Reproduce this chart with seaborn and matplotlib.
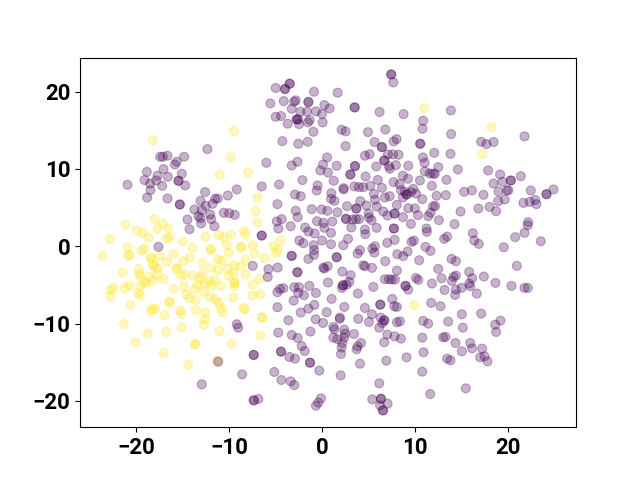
import numpy as np
import pandas as pd
import seaborn as sns
import matplotlib
matplotlib.use("Agg")
import matplotlib.pyplot as plt

# t-SNE embedding, two classes
yellow_x = [-9.5,-18.21,-9.82,-7.96,-11.0,-18.03,-21.15,-17.13,-17.7,-16.52,-19.96,-19.32,-18.67,-22.83,-16.41,-16.7,-14.98,-12.54,-11.11,-10.61,-9.78,-8.39,-8.21,
    -20.93,-19.1,-19.43,-23.62,-20.79,-20.79,-18.39,-18.39,-17.49,-15.98,-16.7,-13.94,-11.97,-11.97,-10.25,-8.71,-8.71,-10.03,-14.23,-14.94,-18.13,-18.13,-17.7,-11.22,-10.79,-12.87,-8.21,-19.71,-15.63,-15.63,
    -21.43,-19.64,-19.57,-17.7,-18.6,-15.2,-14.77,-13.87,-12.87,-11.93,-11.22,-10.21,-9.42,-8.71,-9.53,-10.03,-8.21,-17.06,-18.17,-19.03,-19.03,-19.57,-20.72,-21.25,-22.44,-22.76,-22.79,-19.75,-19.57,-15.98,-14.84,-13.69,-13.4,-13.12,-12.58,-12.11,-11.54,-11.93,-10.93,-12.72,-9.42,-9.42,-9.46,
    -14.62,-14.26,-13.58,-12.04,-11.47,-11.11,-9.57,-16.41,-16.41,-20.61,-18.28,-17.92,-18.42,-16.95,-15.27,-15.12,-13.58,-12.58,-10.86,-10.72,-8.46,-8.28,-21.32,-12.58,-12.72,-15.09,-16.77,-18.74,-11.04,-20.07,-13.65,-13.65,-9.71,-17.02,-14.41,-11.25,
    -6.45,-6.45,-6.63,9.93,-7.46,-7.24,-6.17,-5.23,-4.77,-4.95,-4.45,-7.46,-6.7,-7.46,-6.67,-6.95,-7.13,-6.95,11.0,18.24,17.24]
yellow_y = [14.89,13.68,11.52,9.54,9.24,3.5,2.76,2.94,2.29,2.33,2.03,1.73,1.12,0.95,1.21,0.99,0.61,1.21,1.47,1.12,1.47,1.94,1.47,
    -0.13,-0.34,-0.51,-1.25,-1.16,-1.16,-1.55,-1.55,-1.25,-1.03,-2.02,-0.21,-0.43,-0.43,0.18,-0.13,-0.13,-0.86,-1.51,-1.94,-2.46,-2.46,-2.89,-1.68,-1.9,-2.2,-1.77,-2.93,-2.89,-2.89,
    -3.41,-3.58,-3.88,-3.66,-3.97,-3.84,-3.66,-3.79,-3.54,-2.8,-3.1,-2.89,-2.46,-2.59,-3.49,-3.84,-3.66,-4.23,-4.48,-4.7,-4.7,-5.17,-5.09,-5.43,-5.35,-5.65,-6.47,-6.04,-6.38,-5.52,-5.22,-5.56,-4.96,-4.18,-4.83,-4.53,-4.35,-5.13,-5.13,-5.91,-4.74,-4.74,-5.17,
    -6.21,-6.73,-6.94,-6.56,-6.9,-7.33,-6.64,-7.2,-7.2,-7.63,-8.07,-8.11,-8.41,-8.89,-8.33,-8.76,-8.28,-8.54,-7.98,-8.5,-7.98,-8.2,-10.05,-9.4,-10.18,-10.53,-11.09,-11.3,-10.96,-12.42,-12.68,-12.68,-12.64,-13.8,-15.31,-14.76,
    -9.23,-9.23,-11.52,-7.63,0.13,-0.95,-1.55,0.0,-0.43,-0.86,0.78,-4.96,-4.23,-6.34,-6.25,6.3,4.53,3.07,17.87,15.41,11.91]

purple_x = [-12.33,-14.84,-16.63,-17.13,-17.42,-15.63,-15.84,-17.06,-18.85,-17.7,-15.09,-16.59,-19.1,-17.85,-18.49,-15.45,-15.45,-17.2,-14.73,-20.93,-18.46,-18.82,-16.63,-12.58,-9.17,-10.14,-11.22,-11.5,-13.08,-11.79,-12.51,-15.3,-15.3,-13.73,-12.94,-10.57,-10.0,-9.39,-13.3,-13.08,-12.04,-11.93,-14.48,-13.01,-11.58,-14.26,
    -17.6,-9.17,-9.03,-8.6,-12.94,-11.18,
    7.45,7.45,7.67,-3.48,-3.48,-3.98,-3.98,-4.98,-0.86,1.68,-5.56,-4.12,-2.83,-3.01,-1.47,-1.47,0.25,0.82,3.51,3.51,-3.26,-2.33,-1.61,-0.65,0.0,6.2,8.78,-4.98,-4.41,-2.72,-2.72,-2.55,-1.33,-1.51,-3.69,-2.47,0.07,-0.93,2.11,2.54,4.95,6.81,-4.27,-2.55,-1.54,2.54,5.66,8.03,7.71,6.45,6.45,5.12,4.62,7.1,7.63,8.24,6.7,6.7,0.54,-5.99,-2.65,-3.26,0.11,-0.18,0.64,1.58,3.55,3.55,5.84,7.2,7.31,7.96,9.28,3.05,3.05,4.69,8.71,9.25,-2.11,1.25,6.0,7.71,8.35,-0.47,-0.57,2.33,2.33,3.48,3.98,4.44,5.2,6.45,-6.49,-4.62,1.0,5.59,8.49,8.92,9.1,9.1,9.57,-2.9,-2.29,0.97,1.33,4.12,5.7,6.77,7.28,8.71,-4.8,2.69,3.69,3.69,4.77,5.88,6.59,8.06,9.28,-1.11,-0.04,0.57,-2.83,-2.62,1.65,7.06,7.81,7.81,8.71,5.02,5.05,5.34,2.58,2.58,3.26,3.98,3.65,-4.34,-4.87,-4.7,-3.37,-0.54,0.14,1.11,0.25,-1.83,-1.47,-0.79,0.97,3.15,5.88,4.62,4.66,7.74,7.74,9.57,-6.49,-6.49,-2.44,0.0,2.8,7.81,
    -2.01,0.97,-0.9,2.29,-0.86,-0.86,-1.47,-3.26,-3.26,1.58,1.58,4.09,3.83,5.7,5.41,5.63,7.02,8.1,8.74,9.21,9.64,6.81,-7.46,-4.77,-5.77,-5.84,-2.65,-2.65,0.25,0.61,0.14,2.19,3.08,4.44,4.62,5.38,8.06,0.64,2.94,2.65,2.26,2.26,2.15,6.77,7.2,7.49,7.85,8.99,8.99,9.28,5.52,3.87,-1.36,-2.98,-2.47,-4.16,-4.52,-4.8,-2.55,-1.94,-0.65,-3.05,1.04,6.27,6.27,7.56,7.78,8.06,-4.8,-0.83,-1.47,-2.29,2.4,0.5,4.62,5.38,1.93,1.9,-0.68,0.11,-3.62,3.91,5.05,6.31,6.7,6.7,6.49,6.16,8.06,8.39,1.22,1.33,-1.25,-4.7,-3.26,-2.62,3.44,2.4,2.47,2.4,1.22,1.65,2.19,2.11,2.04,7.02,7.81,8.49,6.7,4.19,3.83,3.73,-2.19,-1.86,-4.41,-4.41,-7.35,-7.35,-3.51,-2.9,-1.29,-1.29,6.92,9.1,4.09,-5.13,-0.29,2.01,-4.37,-3.37,-2.98,6.16,-6.85,-7.35,-7.35,-0.11,-0.39,-0.65,5.41,6.34,6.34,6.24,7.06,6.56,6.56,
    13.87,10.89,10.82,13.9,21.79,17.13,17.7,18.46,10.57,10.57,12.08,13.83,10.86,11.04,12.51,14.62,17.88,11.07,11.61,12.15,11.95,19.17,21.4,20.32,20.32,18.46,19.42,10.54,13.4,11.83,9.82,10.11,15.3,16.13,18.99,19.89,20.05,22.47,24.91,24.16,24.16,12.33,13.33,17.38,10.79,18.96,19.67,21.68,22.36,22.94,23.08,12.18,11.95,10.0,16.84,18.03,18.74,14.91,11.68,11.43,10.32,12.58,14.26,22.18,22.15,11.25,11.29,16.23,21.79,20.79,13.47,13.15,16.38,16.88,23.55,19.57,9.89,11.14,
    11.68,10.46,13.94,14.41,20.97,12.51,15.84,17.42,16.16,10.11,10.36,12.87,14.41,14.15,13.98,11.83,15.84,15.95,18.67,20.39,21.79,22.15,15.02,14.41,14.33,13.19,16.66,11.75,12.76,15.05,17.13,10.89,11.43,13.58,15.16,19.21,18.64,18.74,10.79,13.29,13.04,14.37,15.95,16.16,15.05,17.24,10.93,17.49,17.02,17.81,13.47,13.83,10.79,15.48,11.65]
purple_y = [12.56,11.57,11.7,11.57,11.57,10.92,10.57,9.97,9.62,9.11,9.37,8.98,8.55,8.5,8.11,8.46,8.46,7.81,7.86,7.94,7.25,6.3,6.17,7.0,7.34,6.56,6.17,6.13,5.87,5.48,5.22,5.4,5.4,4.75,4.66,4.32,4.27,4.06,3.89,3.63,4.1,3.5,3.45,2.94,2.59,2.2,
    -0.08,-10.09,-10.53,-16.57,-17.86,-14.93,
    22.22,22.22,21.19,21.02,21.02,20.33,20.33,20.46,19.98,19.85,18.47,18.77,18.86,18.69,18.69,18.6,18.25,17.82,17.95,17.95,17.78,17.39,17.39,17.44,17.09,17.35,17.09,16.74,16.83,16.4,16.4,16.4,16.31,16.01,15.84,15.8,16.01,14.8,15.06,14.85,14.76,15.1,13.59,13.25,13.51,12.95,13.47,13.85,13.55,12.82,12.82,11.91,11.7,11.87,11.87,11.83,11.09,11.09,11.48,10.79,10.92,10.44,10.57,9.8,9.54,10.4,10.36,10.36,10.32,10.36,10.01,10.49,10.4,9.28,9.28,9.02,9.11,8.72,8.55,8.46,8.57,8.29,8.03,7.86,7.21,7.51,7.35,7.73,7.64,7.64,7.81,7.55,7.73,7.99,6.86,6.78,7.25,7.04,6.69,6.69,7.0,6.69,6.47,6.13,5.87,5.83,6.0,6.3,6.47,6.3,5.44,5.18,4.88,4.88,5.27,5.14,4.49,5.35,4.92,4.79,4.75,4.58,4.58,3.76,4.4,3.97,4.23,4.23,3.76,4.23,3.71,3.37,3.54,3.54,3.45,3.5,3.5,3.5,3.2,2.29,2.59,3.24,3.02,3.2,2.38,2.42,1.9,1.64,1.73,2.42,2.38,2.16,1.56,2.29,2.29,2.89,1.38,1.38,0.74,0.74,0.95,0.82,
    0.39,0.26,0.13,0.13,-0.51,-1.12,-1.64,-1.25,-1.25,-1.42,-1.42,-0.51,-0.95,0.0,-0.3,-0.82,0.43,-1.03,-1.29,-0.69,0.56,-1.94,-2.54,-2.76,-2.97,-3.97,-3.36,-3.36,-2.89,-2.59,-2.76,-3.28,-3.75,-2.46,-2.59,-2.8,-3.15,-4.7,-4.61,-4.96,-5.05,-5.05,-5.39,-4.27,-4.27,-4.31,-4.31,-5.13,-5.13,-5.61,-5.26,-6.12,-5.13,-5.3,-5.3,-5.43,-5.52,-5.95,-6.04,-6.34,-6.04,-7.03,-6.81,-7.55,-7.55,-6.81,-7.76,-7.85,-7.89,-7.59,-8.07,-8.58,-7.85,-8.54,-7.98,-8.8,-9.23,-9.4,-9.45,-9.92,-9.58,-9.4,-9.79,-9.23,-9.58,-9.58,-9.92,-10.53,-9.84,-9.71,-10.44,-10.74,-11.04,-11.17,-11.48,-11.86,-11.35,-10.79,-11.3,-11.82,-11.82,-12.0,-12.51,-13.11,-13.93,-11.43,-11.65,-11.95,-12.42,-12.51,-12.94,-13.33,-12.9,-13.55,-13.63,-13.63,-14.06,-14.06,-14.32,-14.54,-15.06,-15.06,-14.8,-14.37,-15.19,-16.26,-16.09,-16.7,-17.3,-17.47,-17.95,-17.73,-19.76,-19.93,-19.93,-19.67,-20.23,-20.62,-19.8,-19.72,-19.72,-20.58,-20.36,-21.23,-21.23,
    17.56,16.23,15.19,14.5,14.2,13.51,13.21,13.47,13.25,13.25,12.08,11.95,11.48,10.79,10.23,9.93,9.8,9.67,9.41,9.37,9.39,9.28,9.06,8.5,8.5,8.11,8.33,8.5,8.59,7.81,7.42,6.82,7.04,7.21,7.08,7.21,7.25,7.21,7.34,6.73,6.73,6.52,6.6,6.65,6.09,5.83,6.04,5.61,5.74,5.99,5.44,5.18,5.18,4.88,4.88,5.09,4.53,4.49,4.32,3.89,4.02,3.37,2.85,3.11,2.72,2.29,1.86,1.69,1.73,1.17,1.25,0.95,0.74,0.3,0.65,-0.13,0.73,-0.08,
    -0.6,-1.81,-1.64,-1.94,-2.54,-2.93,-3.32,-3.92,-4.14,-4.1,-4.35,-4.14,-3.79,-3.97,-4.48,-4.83,-4.83,-5.17,-4.74,-5.13,-5.39,-5.39,-5.39,-5.61,-6.3,-5.65,-6.12,-7.33,-7.76,-8.8,-8.71,-9.66,-10.01,-9.75,-10.53,-9.62,-10.14,-11.09,-11.82,-11.73,-11.78,-12.51,-12.51,-13.2,-13.59,-13.24,-13.72,-14.24,-14.37,-14.88,-14.54,-14.75,-16.22,-18.38,-19.11]

df = pd.DataFrame({
    "x": yellow_x + purple_x,
    "y": yellow_y + purple_y,
    "label": [1] * len(yellow_x) + [0] * len(purple_x),
})

fig, ax = plt.subplots(figsize=(6.4, 4.8), dpi=100)
sns.scatterplot(data=df, x="x", y="y", hue="label", palette={0: "#440154", 1: "#fde725"}, alpha=0.3,
                s=42, linewidth=0.8, edgecolor="face", legend=False, ax=ax)
ax.set_xlabel("")
ax.set_ylabel("")
ax.set_xticks([-20, -10, 0, 10, 20])
ax.set_yticks([-20, -10, 0, 10, 20])
for lab in ax.get_xticklabels() + ax.get_yticklabels():
    lab.set_fontfamily("Roboto")
    lab.set_fontweight("bold")
    lab.set_fontsize(16)

fig.savefig("out.png", dpi=100)
